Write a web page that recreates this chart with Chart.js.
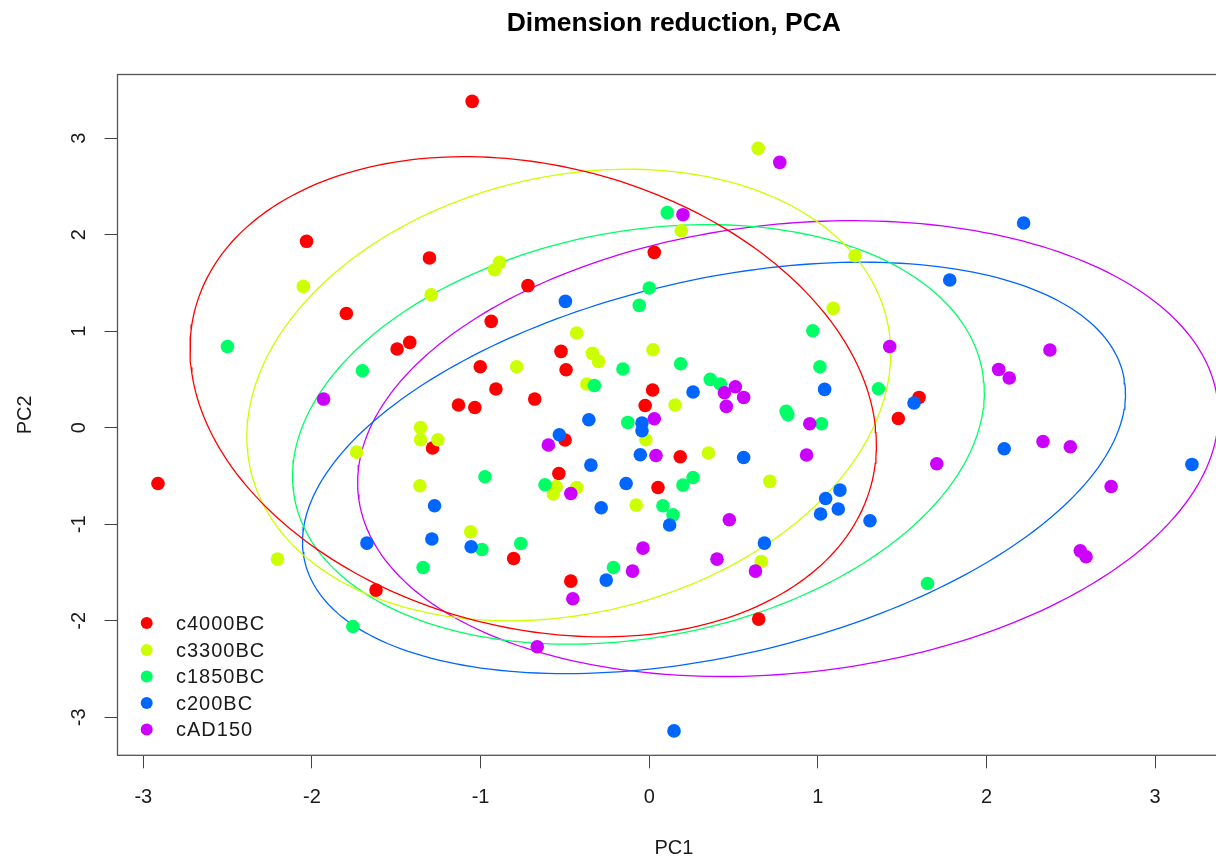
<!DOCTYPE html>
<html><head><meta charset="utf-8">
<script src="https://cdn.jsdelivr.net/npm/chart.js@4"></script>
<style>html,body{margin:0;padding:0;background:#fff;overflow:hidden;width:1216px;height:860px}#wrap{width:1237px;height:860px}</style>
</head><body><div id="wrap"><canvas id="c" width="1237" height="860"></canvas></div>
<script>
const titleText = 'Dimension reduction, PCA';
const xAxisTitle = 'PC1';
const yAxisTitle = 'PC2';
const groups = ['c4000BC', 'c3300BC', 'c1850BC', 'c200BC', 'cAD150'];
const colors = ['#FF0000', '#CCFF00', '#00FF66', '#0066FF', '#CC00FF'];
const xTicks = [-3, -2, -1, 0, 1, 2, 3];
const yTicks = [-3, -2, -1, 0, 1, 2, 3];

const c4000BC_x = [-1.050,-2.032,-1.303,-1.796,-1.420,-1.495,-0.937,-1.002,-0.909,-1.131,-1.034,-1.285,-2.913,-0.719,0.030,-0.523,-0.493,-0.679,0.020,-0.024,-0.499,0.184,-0.536,0.052,1.600,1.477,-0.804,-1.620,-0.465,0.649];
const c4000BC_y = [3.381,1.931,1.759,1.184,0.884,0.816,1.102,0.632,0.401,0.235,0.210,-0.210,-0.577,1.472,1.817,0.791,0.601,0.297,0.391,0.231,-0.127,-0.301,-0.474,-0.619,0.314,0.096,-1.354,-1.682,-1.589,-1.982];
const c3300BC_x = [-2.051,-0.887,-0.917,-1.293,0.646,0.190,1.220,-0.786,-1.356,-1.356,-1.253,-1.735,-1.360,1.091,-0.430,-0.337,-0.301,0.022,-0.370,0.153,-0.020,0.351,-0.552,-0.569,-0.430,0.715,-0.077,-1.059,-2.204,0.664];
const c3300BC_y = [1.464,1.713,1.637,1.378,2.894,2.041,1.782,0.632,0.003,-0.124,-0.124,-0.252,-0.601,1.236,0.981,0.770,0.687,0.808,0.453,0.235,-0.124,-0.262,-0.608,-0.687,-0.619,-0.556,-0.801,-1.078,-1.361,-1.386];
const c1850BC_x = [0.107,0.000,-0.059,-2.501,-1.701,0.970,-0.156,0.186,1.012,-0.325,0.362,0.422,1.359,0.812,0.822,1.022,-0.127,-0.974,-0.618,0.260,0.200,0.081,0.141,-0.762,-0.992,-1.341,-0.212,-1.757,1.650];
const c1850BC_y = [2.228,1.448,1.267,0.842,0.591,1.005,0.608,0.663,0.632,0.438,0.501,0.453,0.404,0.169,0.135,0.041,0.055,-0.508,-0.591,-0.515,-0.594,-0.808,-0.902,-1.199,-1.261,-1.448,-1.448,-2.059,-1.613];
const c200BC_x = [2.220,1.782,-0.497,0.260,1.040,1.570,-0.358,-0.043,-0.043,-0.533,-0.053,0.560,-0.346,2.105,3.218,-1.273,-0.137,-0.285,1.131,1.046,1.121,1.016,1.309,0.121,-1.289,-1.056,-1.674,-0.255,0.683,0.147];
const c200BC_y = [2.121,1.531,1.309,0.370,0.397,0.256,0.083,0.049,-0.031,-0.073,-0.280,-0.308,-0.387,-0.218,-0.380,-0.808,-0.577,-0.829,-0.646,-0.733,-0.842,-0.894,-0.964,-1.008,-1.153,-1.233,-1.195,-1.578,-1.195,-3.140];
const cAD150_x = [0.774,0.200,1.426,-1.931,0.511,0.446,0.560,0.457,0.030,0.952,-0.598,0.040,0.933,-0.465,0.475,-0.037,-0.099,-0.453,0.402,0.630,-0.664,2.376,2.072,2.135,1.705,2.335,2.497,2.739,2.556,2.590];
const cAD150_y = [2.749,2.207,0.842,0.297,0.425,0.363,0.314,0.221,0.093,0.041,-0.179,-0.287,-0.283,-0.681,-0.953,-1.247,-1.485,-1.772,-1.361,-1.485,-2.269,0.805,0.604,0.515,-0.373,-0.142,-0.197,-0.608,-1.275,-1.337];

// ellipse parameters per group: centre, half x-extent, half y-extent, cos of phase (tilt)
const ellCx = [-0.688, -0.477, -0.064, 0.384, 0.823];
const ellCy = [0.321, 0.339, -0.069, -0.416, -0.216];
const ellAx = [2.035, 1.909, 2.051, 2.440, 2.552];
const ellBy = [2.487, 2.339, 2.173, 2.131, 2.361];
const ellCos = [-0.20, 0.185, 0.20, 0.36, 0.15];

const xs = [c4000BC_x, c3300BC_x, c1850BC_x, c200BC_x, cAD150_x];
const ys = [c4000BC_y, c3300BC_y, c1850BC_y, c200BC_y, cAD150_y];

const FONT = "'Liberation Sans', Arial, Helvetica, sans-serif";
Chart.defaults.font.family = FONT;

const datasets = [];
groups.forEach((g, i) => {
  datasets.push({
    label: g,
    data: xs[i].map((x, k) => ({x: x, y: ys[i][k]})),
    backgroundColor: colors[i],
    borderColor: colors[i],
    borderWidth: 0,
    pointRadius: 6.8,
    showLine: false,
    order: 5 - i,
    isPoints: true
  });
});
groups.forEach((g, i) => {
  const d = Math.acos(ellCos[i]);
  const pts = [];
  const n = 240;
  for (let k = 0; k <= n; k++) {
    const t = 2 * Math.PI * k / n;
    pts.push({x: ellCx[i] + ellAx[i] * Math.cos(t), y: ellCy[i] + ellBy[i] * Math.cos(t - d)});
  }
  datasets.push({
    label: g + ' ellipse',
    data: pts,
    borderColor: colors[i],
    backgroundColor: 'transparent',
    borderWidth: 1.3,
    pointRadius: 0,
    showLine: true,
    fill: false,
    tension: 0,
    order: 10
  });
});

const framePlugin = {
  id: 'frame',
  afterDatasetsDraw(chart) {
    const a = chart.chartArea, ctx = chart.ctx;
    ctx.save();
    ctx.strokeStyle = '#555';
    ctx.lineWidth = 1.3;
    ctx.strokeRect(a.left, a.top, a.right - a.left, a.bottom - a.top);
    ctx.restore();
  }
};
const titlePlugin = {
  id: 'rtitle',
  afterDraw(chart) {
    const a = chart.chartArea, ctx = chart.ctx;
    ctx.save();
    ctx.font = "bold 26.5px " + FONT;
    ctx.fillStyle = '#000';
    ctx.textAlign = 'center';
    ctx.textBaseline = 'alphabetic';
    ctx.fillText(titleText, (a.left + a.right) / 2, 31);
    ctx.restore();
  }
};
const legendPlugin = {
  id: 'rlegend',
  afterDraw(chart) {
    const ctx = chart.ctx;
    const rows = [623, 650, 676.5, 703, 729.5];
    ctx.save();
    ctx.font = "20px " + FONT;
    try { ctx.letterSpacing = '1px'; } catch (e) {}
    ctx.textAlign = 'left';
    ctx.textBaseline = 'middle';
    chart.data.datasets.filter(d => d.isPoints).forEach((d, i) => {
      ctx.fillStyle = d.backgroundColor;
      ctx.beginPath();
      ctx.arc(146.7, rows[i], 6, 0, Math.PI * 2);
      ctx.fill();
      ctx.fillStyle = '#1a1a1a';
      ctx.fillText(d.label, 176, rows[i] + 1);
    });
    ctx.restore();
  }
};

new Chart(document.getElementById('c'), {
  type: 'scatter',
  data: {datasets: datasets},
  options: {
    responsive: false,
    animation: false,
    devicePixelRatio: 1,
    events: [],
    layout: {padding: {top: 74.5, right: 1, left: 0, bottom: 0}},
    plugins: {legend: {display: false}, tooltip: {enabled: false}, title: {display: false}},
    scales: {
      x: {
        type: 'linear', min: -3.153, max: 3.445,
        afterBuildTicks: s => { s.ticks = xTicks.map(v => ({value: v})); },
        afterFit: s => { s.height = 104.7; s.paddingLeft = 0; s.paddingRight = 0; },
        grid: {drawOnChartArea: false, drawTicks: true, tickLength: 13, color: '#444', lineWidth: 1},
        border: {display: false},
        ticks: {font: {size: 20}, color: '#1a1a1a', padding: 17, maxRotation: 0, autoSkip: false},
        title: {display: true, text: xAxisTitle, font: {size: 20}, color: '#1a1a1a', padding: {top: 0, bottom: 0}}
      },
      y: {
        type: 'linear', min: -3.393, max: 3.659,
        afterBuildTicks: s => { s.ticks = yTicks.map(v => ({value: v})); },
        afterFit: s => { s.width = 117.5; s.paddingTop = 0; s.paddingBottom = 0; },
        grid: {drawOnChartArea: false, drawTicks: true, tickLength: 13, color: '#444', lineWidth: 1},
        border: {display: false},
        ticks: {font: {size: 20}, color: '#1a1a1a', padding: 16, minRotation: 90, maxRotation: 90, crossAlign: 'center', autoSkip: false},
        title: {display: true, text: yAxisTitle, font: {size: 20}, color: '#1a1a1a', padding: {top: 13, bottom: 0}}
      }
    }
  },
  plugins: [framePlugin, titlePlugin, legendPlugin]
});
</script>
</body></html>
